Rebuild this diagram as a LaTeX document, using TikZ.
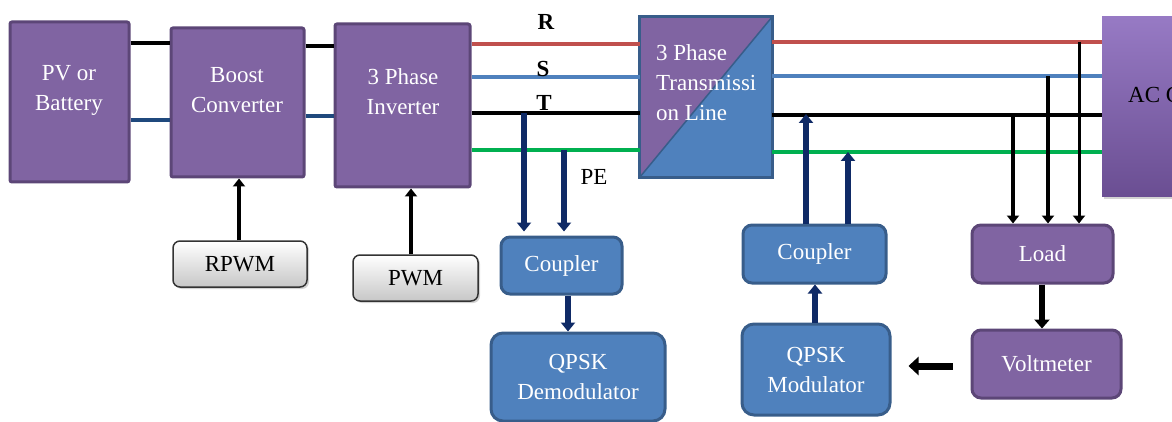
\documentclass[tikz,border=0pt]{standalone}
\usepackage{fontspec}
\setmainfont{Liberation Serif}
\usetikzlibrary{arrows.meta,shadows,calc}
\definecolor{purp}{HTML}{8064A2}
\definecolor{purpd}{HTML}{5C4677}
\definecolor{blu}{HTML}{4F81BD}
\definecolor{blud}{HTML}{385D8A}
\definecolor{navy}{HTML}{0F2A66}
\definecolor{lred}{HTML}{C0504D}
\definecolor{lblue}{HTML}{4F81BD}
\definecolor{lgreen}{HTML}{00B050}
\definecolor{dblue}{HTML}{1F497D}
\definecolor{acTop}{HTML}{977AC4}
\definecolor{acBot}{HTML}{6A4E92}
\begin{document}
\begin{tikzpicture}[x=1pt,y=-1pt,
  font=\fontsize{23}{30}\selectfont,
  pbox/.style={draw=purpd, fill=purp, line width=3pt, rounded corners=2pt, inner sep=0pt},
  prbox/.style={draw=purpd, fill=purp, line width=3pt, rounded corners=9pt, inner sep=0pt, text=white, align=center},
  bbox/.style={draw=blud, fill=blu, line width=3pt, rounded corners=9pt, inner sep=0pt, text=white, align=center},
  gbox/.style={draw=black!80, top color=white, bottom color=black!22, line width=1.5pt, rounded corners=7pt, inner sep=0pt,
     drop shadow={opacity=0.35, shadow xshift=2pt, shadow yshift=-2pt}},
  wtext/.style={text=white, align=center, inner sep=0pt},
  wire/.style={line width=4pt},
  narrow/.style={draw=navy, line width=5.5pt, -{Triangle[width=14pt,length=9pt]}},
  karrow/.style={draw=black, line width=4pt, -{Triangle[width=12pt,length=8pt]}},
  lbl/.style={inner sep=0pt, text=black}
]
\useasboundingbox (0,0) rectangle (1172,422);
\clip (0,0) rectangle (1172,422);

% top row boxes
\node[pbox, minimum width=119pt, minimum height=160pt] (pv) at (69.5,102) {};
\node[wtext] (pvt) at (69,90) {PV or\\Battery};
\node[pbox, minimum width=133pt, minimum height=149pt] (boost) at (237.5,102.5) {};
\node[wtext] (boostt) at (237,90) {Boost\\Converter};
\node[pbox, minimum width=135pt, minimum height=163pt] (inv) at (402.5,105.5) {};
\node[wtext] (invt) at (403,92) {3 Phase\\Inverter};

% transmission line box
\node[minimum width=132pt, minimum height=160pt, inner sep=0pt] (tl) at (706,97) {};
\fill[purp] (tl.south west) -- (tl.north west) -- (tl.north east) -- cycle;
\fill[blu] (tl.south west) -- (tl.north east) -- (tl.south east) -- cycle;
\draw[blud, line width=1.5pt] (tl.south west) -- (tl.north east);
\draw[blud, line width=3pt] (tl.south west) rectangle (tl.north east);
\node[wtext, anchor=west, align=left] (tlt) at (656,82.5) {3 Phase\\Transmissi\\on Line};

% AC box (cut off at the right edge, as in the reference)
\node[minimum width=100pt, minimum height=180pt, inner sep=0pt, top color=acTop, bottom color=acBot,
      drop shadow={opacity=0.35, shadow xshift=2pt, shadow yshift=-2pt}] (ac) at (1152,107) {};
\node[lbl, anchor=west] (act) at (1128,95) {AC G};

% DC wires
\draw[wire, black] (pv.east |- 0,43) -- (boost.west |- 0,43);
\draw[wire, dblue] (pv.east |- 0,120) -- (boost.west |- 0,120);
\draw[wire, black] (boost.east |- 0,46) -- (inv.west |- 0,46);
\draw[wire, dblue] (boost.east |- 0,116) -- (inv.west |- 0,116);

% three phase wires, left of line
\draw[wire, lred] (inv.east |- 0,44) -- (tl.west |- 0,44);
\draw[wire, lblue] (inv.east |- 0,77) -- (tl.west |- 0,77);
\draw[wire, black] (inv.east |- 0,113) -- (tl.west |- 0,113);
\draw[wire, lgreen] (inv.east |- 0,150) -- (tl.west |- 0,150);
% right of line
\draw[wire, lred] (tl.east |- 0,42) -- (ac.west |- 0,42);
\draw[wire, lblue] (tl.east |- 0,76) -- (ac.west |- 0,76);
\draw[wire, black] (tl.east |- 0,115) -- (ac.west |- 0,115);
\draw[wire, lgreen] (tl.east |- 0,152) -- (ac.west |- 0,152);

% phase labels
\node[lbl, font=\fontsize{23}{30}\selectfont\bfseries] (R) at (546,22) {R};
\node[lbl, font=\fontsize{23}{30}\selectfont\bfseries] (S) at (543,69) {S};
\node[lbl, font=\fontsize{23}{30}\selectfont\bfseries] (T) at (544,103) {T};
\node[lbl] (PE) at (594,177) {PE};

% PWM boxes
\node[gbox, minimum width=134pt, minimum height=46pt] (rpwm) at (240,264) {RPWM};
\node[gbox, minimum width=125pt, minimum height=46pt] (pwm) at (415.5,278) {PWM};
\draw[karrow] (rpwm.north -| 239,0) -- (boost.south -| 239,0);
\draw[karrow] (pwm.north -| 411,0) -- (inv.south -| 411,0);

% receiver side
\node[bbox, minimum width=121pt, minimum height=57pt] (c1) at (561.5,265.5) {Coupler};
\node[bbox, minimum width=174pt, minimum height=88pt, rounded corners=12pt] (dem) at (578,377) {QPSK\\Demodulator};
\coordinate (tapT) at (524,113);
\coordinate (tapPE) at (564,150);
\draw[narrow, shorten >=4pt] (tapT) -- (tapT |- c1.north);
\draw[narrow, shorten >=4pt] (tapPE) -- (tapPE |- c1.north);
\draw[narrow] (c1.south -| 568,0) -- (dem.north -| 568,0);

% transmitter side
\node[bbox, minimum width=143pt, minimum height=58pt] (c2) at (814.5,254) {Coupler};
\node[bbox, minimum width=148pt, minimum height=91pt, rounded corners=12pt] (mod) at (816,369.5) {QPSK\\Modulator};
\coordinate (inT) at (806,114);
\coordinate (inPE) at (848,152);
\draw[narrow] (c2.north -| inT) -- (inT);
\draw[narrow] (c2.north -| inPE) -- (inPE);
\draw[narrow] (mod.north -| 815,0) -- (c2.south -| 815,0);

% load and voltmeter
\node[prbox, minimum width=141pt, minimum height=58pt] (load) at (1042.5,254) {Load};
\node[prbox, minimum width=149pt, minimum height=68pt] (volt) at (1046.5,364) {Voltmeter};
\coordinate (lT) at (1013,115);
\coordinate (lS) at (1048,76);
\coordinate (lR) at (1079,42);
\draw[karrow, line width=4pt] (lT) -- (lT |- load.north);
\draw[karrow, line width=4pt] (lS) -- (lS |- load.north);
\draw[karrow, line width=3pt] (lR) -- (lR |- load.north);
\draw[karrow, line width=5.5pt, -{Triangle[width=15pt,length=9pt]}] (load.south -| 1042,0) -- (volt.north -| 1042,0);
\draw[karrow, line width=7pt, -{Triangle[width=18pt,length=10pt]}, shorten <=18pt, shorten >=17pt] (volt.west |- 0,366) -- (mod.east |- 0,366);
\end{tikzpicture}
\end{document}
